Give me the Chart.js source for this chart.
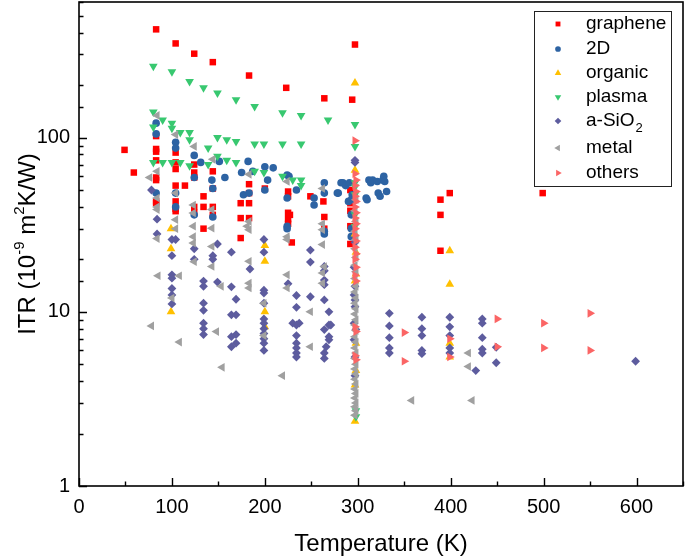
<!DOCTYPE html>
<html>
<head>
<meta charset="utf-8">
<script src="https://cdn.jsdelivr.net/npm/chart.js@4.4.1/dist/chart.umd.min.js"></script>
<style>
  html, body { margin: 0; padding: 0; background: #fff; }
  canvas { display: block; }
</style>
</head>
<body>
<canvas id="chart" width="685" height="558"></canvas>
<script>
// ── ITR vs temperature scatter (log y) ──

const FONT = '"Liberation Sans", Arial, sans-serif';

// [temperature K, ITR 1e-9 m2K/W]
const graphene = [
  [49,85],[59,63],[83,418],[104,347],[124,303],[144,271],[183,227],[223,193],[264,168],[294,165],[297,342],
  [83,102],[83,86],[83,83],[83,74],[83,59],[83,57],[83,43],[83,42],
  [104,82],[104,72],[104,66],[104,53],[104,43],[104,39],[104,37.8],[114,53],
  [124,70],[124,63],[124,59],[124,40],[124,37],[134,46],[134,40],[134,30],
  [144,64],[144,51],[144,40],[144,36],[174,42],[174,34.5],[174,26.5],
  [183,54],[183,48],[183,42],[183,34.5],[200,51],
  [225,49],[225,46],[225,37],[227,36],[225,34],[225,32],[229,25],
  [249,46],[263,43],[264,35],[264,30],
  [292,50],[292,42],[292,38],[292,31],[292,24.5],
  [389,44],[389,36],[389,22.4],[399,48],[499,48]
];
const twoD = [
  [83,121],[83,105],[83,48],[104,94],[104,87],[104,48],[104,40],
  [124,79],[124,59],[124,36],[131,72],[143,57],[144,51],[144,35],[151,73],[157,59],
  [175,63],[177,47],[182,73],[183,48],[187,64],[200,68],[200,50],[203,57],[209,67],
  [224,61],[226,60],[224,45],[224,31],[224,30],[234,50],[253,45],[253,41],
  [264,55],[264,48],[264,29],[264,28],
  [278,48],[279,48],[282,55],[284,55],[287,53],[290,43],[291,55],[293,44],[294,47],[293,36],[293,30],[293,27],
  [309,45],[310,44],[312,57],[314,55],[316,57],[321,56],[322,48],[324,46],[327,57],[328,60],[329,56],[331,49]
];
const organic = [
  [99,30],[99,23],[99,10],[200,24],[200,19.5],[200,10],[200,8.2],
  [297,206],[297,65],[297,28],[298,22],[298,16.5],[297,15],[298,6.6],[298,4.6],[297,3.8],[297,2.35],
  [399,22.4],[399,14.4],[399,6.6],[399,5.5]
];
const plasma = [
  [80,257],[100,239],[119,210],[134,193],[149,180],[169,165],[189,151],[219,139],[239,134],[268,126],[297,119],
  [80,140],[80,115],[90,126],[100,121],[100,113],[109,107],[119,107],[119,97],[139,87],[149,100],[159,97],[169,95],
  [189,92],[199,92],[219,92],[239,92],[297,89],
  [80,72],[90,72],[100,72],[109,72],[119,69],[139,70],[149,78],[159,74],[169,72],
  [189,64],[199,63],[219,60],[230,57],[239,57],[239,53],
  [297,55],[297,52],[297,47],[297,36],[297,31],[298,2.7],[298,2.5]
];
const aSiO2 = [
  [78,50],[84,34],[84,28],
  [100,26],[104,26],[100,21],[100,16.3],[100,15.6],[100,13.6],[100,12.5],[100,11.1],
  [124,23],[124,20],[134,15],[134,14],[134,11.2],[134,10.2],[134,8.6],[134,8],[134,7.4],
  [144,21],[144,20],[149,24.5],[149,14.8],
  [164,22],[164,13.9],[169,11.8],[164,9.6],[169,9.6],[169,7.4],[164,7.2],[164,6.3],[169,6.6],
  [184,17.6],
  [199,26],[199,22],[199,13.3],[199,12.8],[199,11.2],[199,9.1],[199,8.6],[199,8],[199,7.5],[199,7],[199,6.6],[199,6],
  [225,14.5],[234,12.4],[234,10.6],[230,8.6],[234,8.4],[237,8.6],[234,7.3],[234,6.6],[234,6.2],[234,5.8],[234,5.5],
  [249,22.6],[249,19.3],[249,12.2],
  [264,18.2],[264,17.2],[264,15.2],[264,14.3],[264,11.7],[269,10],[264,7.9],[269,8.4],[271,8.4],[269,7.2],[269,6.9],[266,6.3],[264,5.8],[264,5.4],
  [297,74],[297,72],[297,25],[296,18],[297,14],[296,12.5],[297,11.7],[297,10.7],[296,8.6],[298,7.9],[296,6.9],[297,5.5],[297,4.3],
  [334,9.8],[334,8.3],[334,7.1],[334,6.2],[334,5.8],
  [369,9.3],[369,8],[369,7.3],[369,6],[369,5.75],
  [399,9.3],[399,8.2],[399,7.3],[399,6.2],[399,5.8],
  [427,4.6],[434,9.1],[434,8.6],[434,7.1],[434,6.1],[434,5.8],[449,6.25],[449,5.1],
  [599,5.2]
];
const metal = [
  [84,134],[104,104],[124,89],[144,75],[76,59],[84,64],[84,45],[84,40],[84,38.6],[84,26.3],[85,16.1],[78,8.3],
  [104,48],[104,33.8],[104,30],[108,16.1],[108,6.7],[100,12],
  [123,41],[123,36.9],[123,31],[123,27],[123,24.8],[124,19.4],
  [143,38.6],[143,30.2],[143,23.7],[143,18.2],[148,7.7],[153,14],[154,4.8],
  [181,31],[183,61.5],[183,33],[183,29.6],[183,19.5],[183,14.6],[183,13.7],
  [199,11.2],[199,7.3],
  [224,56],[224,27],[224,26],[224,16.3],[224,13.7],[219,4.3],
  [249,10],[249,6.3],
  [262,51],[262,32],[262,29.6],[262,24.3],[264,18.2],[262,16.7],[262,14.6],
  [298,44],[297,38],[298,33],[297,29],[298,26],[297,23],[298,20.5],[297,18.5],[298,17],[297,15.5],
  [298,14],[297,13],[298,12],[297,11.2],[298,10.4],[297,9.7],[298,9],[297,8.4],[298,7.8],[297,7.2],
  [298,6.7],[297,6.2],[298,5.8],[297,5.4],[298,5],[297,4.7],[298,4.4],[297,4.1],[298,3.85],[297,3.6],
  [298,3.4],[297,3.2],[298,3],[297,2.85],[298,2.7],[297,2.55],
  [358,3.1],[419,5.8],[419,4.85],[423,3.1]
];
const others = [
  [297,96],[297,62],[298,57],[297,53],[298,49],[297,46],[298,43],[297,40],[298,37],[297,34.5],
  [298,32],[297,30],[297,27.5],[298,25.5],[297,23.5],[298,21.5],[297,20],[298,18],[297,16.2],[298,15],
  [297,8.2],[298,7.7],[297,5.6],[298,5.3],
  [350,7.6],[350,5.2],[399,7],[399,5.5],[450,9.1],[450,6.3],[500,8.6],[500,6.2],[550,9.8],[550,6]
];

const X_MIN = 0, X_MAX = 650, X_STEP = 50;
const Y_MIN = 1, Y_MAX = 600;
const Y_LABELS = [1, 10, 100];

// series look (Origin-like symbols)
const SERIES = [
  { label:'graphene', data:graphene, color:'#ff0000', style:'rect',     rot:0,   r:4.6 },
  { label:'2D',       data:twoD,     color:'#2d63a3', style:'circle',   rot:0,   r:3.8 },
  { label:'organic',  data:organic,  color:'#ffc000', style:'triangle', rot:0,   r:5 },
  { label:'plasma',   data:plasma,   color:'#38c870', style:'triangle', rot:180, r:5 },
  { label:'a-SiO2',   data:aSiO2,    color:'#5d5c9e', style:'rectRot',  rot:0,   r:4.4 },
  { label:'metal',    data:metal,    color:'#a0a0a0', style:'triangle', rot:-90, r:5 },
  { label:'others',   data:others,   color:'#fb6565', style:'triangle', rot:90,  r:5 },
];

function marker(ctx, s, x, y, r) {
  if (Chart.helpers && Chart.helpers.drawPoint) {
    ctx.fillStyle = s.color;
    Chart.helpers.drawPoint(ctx, { pointStyle:s.style, rotation:s.rot, radius:r, borderWidth:0 }, x, y);
  }
}

// frame + inward ticks
const framePlugin = {
  id:'frame',
  afterDraw(chart) {
    const { ctx, chartArea:a, scales:{ x, y } } = chart;
    ctx.save();
    ctx.strokeStyle = '#000';
    ctx.lineWidth = 1.6;
    ctx.strokeRect(a.left, a.top, a.right - a.left, a.bottom - a.top);
    ctx.lineWidth = 1.4;
    ctx.beginPath();
    x.ticks.forEach(t => {
      const px = Math.round(x.getPixelForValue(t.value)) + 0.5;
      const len = t.value % 100 === 0 ? 8 : 4.5;
      ctx.moveTo(px, a.bottom); ctx.lineTo(px, a.bottom - len);
    });
    y.ticks.forEach(t => {
      const py = Math.round(y.getPixelForValue(t.value)) + 0.5;
      const lg = Math.log10(t.value);
      const len = Math.abs(lg - Math.round(lg)) < 1e-9 ? 8 : 4.5;
      ctx.moveTo(a.left, py); ctx.lineTo(a.left + len, py);
    });
    ctx.stroke();
    ctx.restore();
  }
};

// rotated y title with superscripts
const yTitlePlugin = {
  id:'yTitle',
  afterDraw(chart) {
    const { ctx, chartArea:a } = chart;
    const parts = [['ITR (10',0],['-9',1],[' m',0],['2',1],['K/W)',0]];
    const fN = '24px ' + FONT, fS = '15px ' + FONT;
    ctx.save();
    ctx.translate(28, (a.top + a.bottom) / 2);
    ctx.rotate(-Math.PI / 2);
    ctx.fillStyle = '#000';
    ctx.textBaseline = 'middle';
    ctx.textAlign = 'left';
    let w = 0;
    parts.forEach(p => { ctx.font = p[1] ? fS : fN; w += ctx.measureText(p[0]).width; });
    let cx = -w / 2;
    parts.forEach(p => {
      ctx.font = p[1] ? fS : fN;
      ctx.fillText(p[0], cx, p[1] ? -8 : 0);
      cx += ctx.measureText(p[0]).width;
    });
    ctx.restore();
  }
};

// boxed legend in the top right corner
const legendPlugin = {
  id:'boxLegend',
  afterDraw(chart) {
    const ctx = chart.ctx;
    const box = { x:534.5, y:11.5, w:137, h:175 };
    const rowY = [24, 49, 73, 97, 121, 148, 173];
    ctx.save();
    ctx.fillStyle = '#fff';
    ctx.fillRect(box.x, box.y, box.w, box.h);
    ctx.strokeStyle = '#222';
    ctx.lineWidth = 1;
    ctx.strokeRect(box.x, box.y, box.w, box.h);
    SERIES.forEach((s, i) => {
      marker(ctx, s, 558, rowY[i], s.r * 0.75);
      ctx.fillStyle = '#000';
      ctx.textBaseline = 'middle';
      ctx.textAlign = 'left';
      ctx.font = '19px ' + FONT;
      if (s.label === 'a-SiO2') {
        ctx.fillText('a-SiO', 586, rowY[i]);
        const w = ctx.measureText('a-SiO').width;
        ctx.font = '13px ' + FONT;
        ctx.fillText('2', 586 + w + 1, rowY[i] + 7);
      } else {
        ctx.fillText(s.label, 586, rowY[i]);
      }
    });
    ctx.restore();
  }
};

new Chart(document.getElementById('chart'), {
  type:'scatter',
  data:{
    datasets: SERIES.map((s, i) => ({
      label: s.label,
      data: s.data.map(p => ({ x:p[0], y:p[1] })),
      backgroundColor: s.color,
      borderWidth: 0,
      pointStyle: s.style,
      pointRotation: s.rot,
      pointRadius: s.r,
      order: SERIES.length - i
    }))
  },
  options:{
    responsive:false,
    animation:false,
    events:[],
    layout:{ autoPadding:false, padding:{ top:2, right:2, left:0, bottom:0 } },
    plugins:{ legend:{ display:false }, tooltip:{ enabled:false } },
    scales:{
      x:{
        type:'linear', min:X_MIN, max:X_MAX,
        afterFit: s => { s.height = 72; s.paddingLeft = 0; s.paddingRight = 0; },
        grid:{ display:false, drawTicks:false }, border:{ display:false },
        ticks:{
          stepSize:X_STEP, autoSkip:false, maxRotation:0, padding:9, color:'#000',
          font:{ family:FONT, size:20 },
          callback: v => v % 100 === 0 ? String(v) : ''
        },
        title:{ display:true, text:'Temperature (K)', color:'#000',
          font:{ family:FONT, size:24, lineHeight:1.1 }, padding:{ top:0, bottom:0 } }
      },
      y:{
        type:'logarithmic', min:Y_MIN, max:Y_MAX,
        afterFit: s => { s.width = 79; s.paddingTop = 0; s.paddingBottom = 0; },
        grid:{ display:false, drawTicks:false }, border:{ display:false },
        ticks:{
          autoSkip:false, padding:9, color:'#000',
          font:{ family:FONT, size:20 },
          callback: v => Y_LABELS.includes(v) ? String(v) : ''
        }
      }
    }
  },
  plugins:[framePlugin, yTitlePlugin, legendPlugin]
});
</script>
</body>
</html>
